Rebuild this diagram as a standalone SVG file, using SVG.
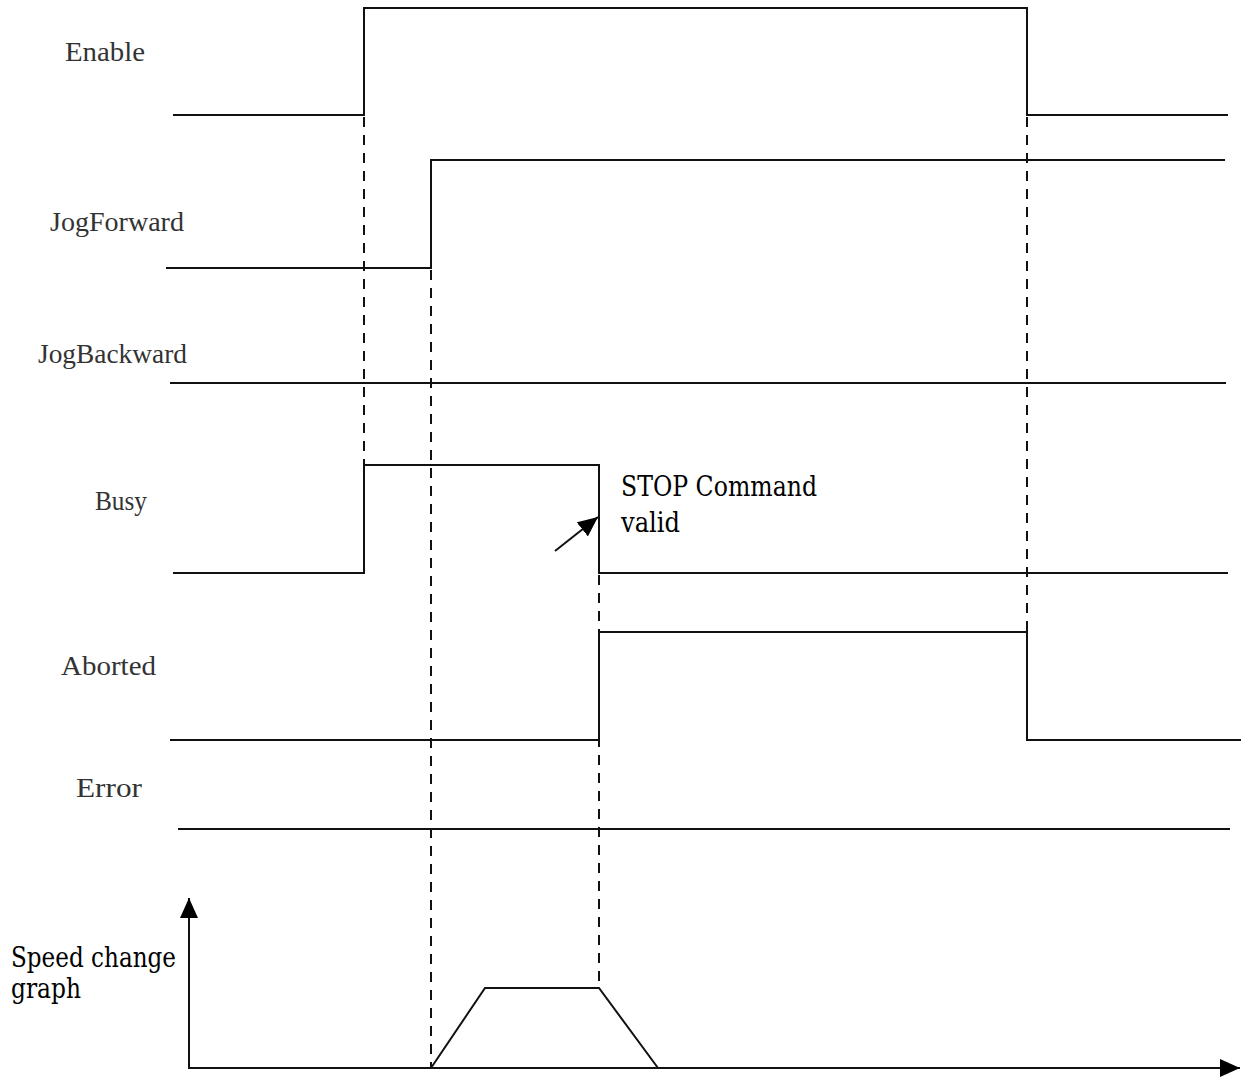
<svg xmlns="http://www.w3.org/2000/svg" width="1241" height="1079" viewBox="0 0 1241 1079">
<style>
.sig{fill:none;stroke:#111;stroke-width:2;stroke-linejoin:miter}
.dash{fill:none;stroke:#111;stroke-width:2;stroke-dasharray:10 8}
.lbl{font-family:"Liberation Serif","DejaVu Serif",serif;font-size:27px;fill:#333}
.note{font-family:"DejaVu Serif","Liberation Serif",serif;font-size:27px;fill:#000}
</style>
<defs>
<marker id="arr" markerUnits="userSpaceOnUse" markerWidth="22" markerHeight="18" refX="20" refY="9" orient="auto">
<path d="M0,0 L20,9 L0,18 z" fill="#000"/>
</marker>
</defs>
<rect width="1241" height="1079" fill="#fff"/>
<g id="connectors">
<line class="dash" x1="364" y1="117" x2="364" y2="465"/>
<line class="dash" x1="431" y1="270" x2="431" y2="1068"/>
<line class="dash" x1="599" y1="575" x2="599" y2="988"/>
<line class="dash" x1="1027" y1="117" x2="1027" y2="632"/>
<line class="sig" x1="555" y1="551" x2="598" y2="517" stroke-width="2.5" marker-end="url(#arr)"/>
</g>
<g id="enable">
<text class="lbl" x="65" y="61" textLength="80" lengthAdjust="spacingAndGlyphs">Enable</text>
<polyline class="sig" points="173,115 364,115 364,8 1027,8 1027,115 1228,115"/>
</g>
<g id="jogforward">
<text class="lbl" x="50" y="231" textLength="134" lengthAdjust="spacingAndGlyphs">JogForward</text>
<polyline class="sig" points="166,268 431,268 431,160 1225,160"/>
</g>
<g id="jogbackward">
<text class="lbl" x="38" y="363" textLength="149" lengthAdjust="spacingAndGlyphs">JogBackward</text>
<line class="sig" x1="170" y1="383" x2="1226" y2="383"/>
</g>
<g id="busy">
<text class="lbl" x="95" y="510" textLength="52" lengthAdjust="spacingAndGlyphs">Busy</text>
<polyline class="sig" points="173,573 364,573 364,465 599,465 599,573 1228,573"/>
</g>
<g id="aborted">
<text class="lbl" x="61" y="675" textLength="95" lengthAdjust="spacingAndGlyphs">Aborted</text>
<polyline class="sig" points="170,740 599,740 599,632 1027,632 1027,740 1241,740"/>
</g>
<g id="error">
<text class="lbl" x="76" y="797" textLength="66" lengthAdjust="spacingAndGlyphs">Error</text>
<line class="sig" x1="178" y1="829" x2="1230" y2="829"/>
</g>
<g id="stop-note">
<text class="note" x="621" y="496" textLength="196" lengthAdjust="spacingAndGlyphs">STOP Command</text>
<text class="note" x="621" y="532" textLength="59" lengthAdjust="spacingAndGlyphs">valid</text>
</g>
<g id="speed-graph">
<text class="note" x="11" y="967" textLength="165" lengthAdjust="spacingAndGlyphs">Speed change</text>
<text class="note" x="11" y="998" textLength="70" lengthAdjust="spacingAndGlyphs">graph</text>
<line class="sig" x1="189" y1="1069" x2="189" y2="898" marker-end="url(#arr)"/>
<line class="sig" x1="189" y1="1068" x2="1240" y2="1068" marker-end="url(#arr)"/>
<polyline class="sig" points="431,1068 485,988 599,988 658,1068"/>
</g>
</svg>
